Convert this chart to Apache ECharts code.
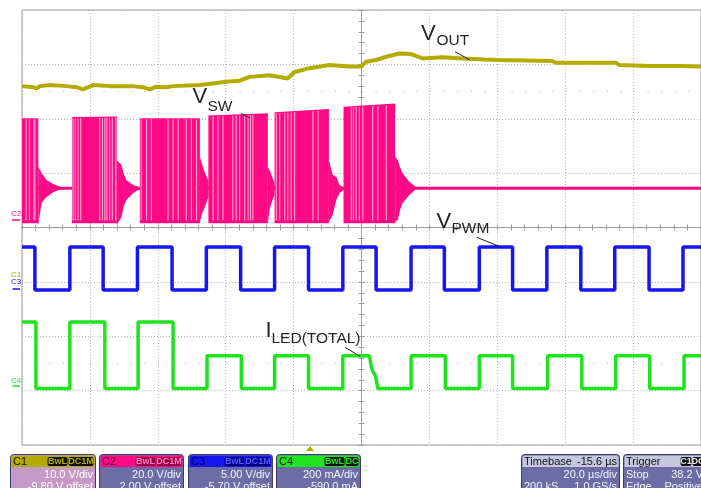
<!DOCTYPE html>
<html><head><meta charset="utf-8">
<script src="https://cdn.jsdelivr.net/npm/echarts@6/dist/echarts.min.js"></script>
<style>html,body{margin:0;padding:0;background:#fff;overflow:hidden}#c{width:701px;height:488px}</style>
</head><body><div id="c"></div>
<script>
// Horizontal: time in µs (20 µs/div, 10 div). Vertical: screen divisions (-4..4, centre = 0).
const timeMin = -100, timeMax = 100, timeStep = 20;
const divMin = -4, divMax = 4;

// C1 VOUT trace [t, div]
const voutPoints = [[-100,2.60],[-96.7,2.58],[-95.7,2.56],[-94.7,2.60],[-91.8,2.62],[-86.9,2.60],[-83.9,2.58],[-82.0,2.54],[-80.5,2.58],[-79.0,2.62],[-73.9,2.60],[-67.4,2.60],[-64.4,2.58],[-62.4,2.54],[-60.4,2.59],[-57.4,2.58],[-55.5,2.60],[-47.6,2.62],[-39.8,2.68],[-35.9,2.70],[-32.9,2.77],[-27.1,2.80],[-21.8,2.74],[-19.7,2.86],[-15.3,2.93],[-9.4,2.99],[-3.5,2.96],[-0.1,2.96],[1.4,3.05],[4.3,3.08],[7.3,3.14],[11.2,3.20],[14.6,3.19],[18.0,3.11],[23.9,3.13],[29.8,3.11],[36.2,3.09],[40.6,3.08],[56.2,3.06],[57.3,3.03],[74.9,3.03],[75.9,2.99],[84.7,2.97],[93.5,2.97],[100,2.96]];

// C2 VSW switching bursts [start, end, top at start, top at end]
const vswBursts = [[-100,-95.2,2.01,2.01],[-85.3,-72.1,2.03,2.04],[-65.3,-47.6,2.01,2.01],[-45.1,-27.6,2.06,2.10],[-25.6,-9.6,2.12,2.18],[-5.3,9.9,2.22,2.28]];
const vswLow = 0.08;
// lighter (aliased) stripes seen inside the bursts, times in µs
const vswStripes = [-98.8,-97.8,-96.5,-96.2,-85.0,-84.3,-83.5,-82.7,-77.1,-76.3,-75.6,-75.0,-74.2,-73.4,-72.4,-64.9,-63.3,-61.9,-57.0,-55.5,-54.0,-51.6,-50.1,-48.6,-43.7,-42.3,-40.8,-37.9,-36.9,-35.9,-34.4,-33.4,-32.7,-32.0,-25.1,-24.1,-22.6,-21.7,-20.7,-19.7,-14.3,-12.8,-3.0,-2.4,-1.6,-0.6,0.4,3.3,4.8,7.3];
// ringing after each burst: [t, upper, lower]
const vswRinging = [
  [[-95.2,1.12,0.03],[-94.6,1.05,0.30],[-94.2,1.00,0.45],[-93.4,0.93,0.52],[-92.7,0.87,0.56],[-90.8,0.80,0.65],[-88.8,0.75,0.70],[-87.1,0.74,0.71]],
  [[-72.1,1.24,0.05],[-70.7,1.15,0.19],[-70.0,0.98,0.40],[-69.2,0.87,0.51],[-67.3,0.78,0.63],[-65.3,0.74,0.71]],
  [[-47.6,1.30,0.10],[-47.1,1.19,0.23],[-46.1,1.00,0.38],[-45.1,0.87,0.56]],
  [[-27.6,1.11,0.05],[-27.1,1.06,0.32],[-26.2,0.91,0.51],[-25.6,0.82,0.60]],
  [[-9.6,1.24,0.10],[-8.5,0.97,0.23],[-7.4,0.93,0.51],[-6.5,0.78,0.63],[-5.3,0.74,0.69]],
  [[9.9,1.30,0.10],[10.7,1.24,0.14],[11.4,1.10,0.33],[12.1,1.00,0.45],[14.1,0.84,0.60],[16.1,0.74,0.71]]
];
const vswIdleLine = [[-100,0.72],[100,0.72]];

// C3 VPWM: edge times (starts high)
const vpwmEdges = [-96.2,-85.9,-76.1,-66.0,-55.8,-45.7,-35.6,-25.6,-15.6,-5.5,4.3,14.6,24.4,34.7,44.5,54.6,64.6,74.6,84.7,94.7];
const vpwmHigh = -0.36, vpwmLow = -1.15;

// C4 ILED(TOTAL) trace [t, div]
const iledPoints = [[-100,-1.74],[-95.9,-1.74],[-95.9,-2.96],[-85.9,-2.96],[-85.9,-1.74],[-75.6,-1.74],[-75.6,-2.96],[-65.8,-2.96],[-65.8,-1.74],[-55.5,-1.74],[-55.5,-2.96],[-45.5,-2.96],[-45.5,-2.36],[-35.4,-2.36],[-35.4,-2.96],[-25.6,-2.96],[-25.6,-2.36],[-15.6,-2.36],[-15.6,-2.96],[-5.5,-2.96],[-5.5,-2.36],[2.35,-2.36],[2.85,-2.55],[3.3,-2.64],[4.1,-2.73],[4.8,-2.96],[14.6,-2.96],[14.6,-2.36],[24.7,-2.36],[24.7,-2.96],[34.7,-2.96],[34.7,-2.36],[44.5,-2.36],[44.5,-2.96],[54.8,-2.96],[54.8,-2.36],[64.9,-2.36],[64.9,-2.96],[74.9,-2.96],[74.9,-2.36],[84.9,-2.36],[84.9,-2.96],[95,-2.96],[95,-2.36],[100,-2.36]];

const PINK = '#ff0a84', PINK_LIGHT = '#ffa3d0', OLIVE = '#b3ab00', BLUE = '#1616f2', GREEN = '#1ee41e';
const GRIDC = '#9c9c9c';

function stepWave(edges, hi, lo) {
  const pts = [[timeMin, hi]];
  let lvl = hi;
  edges.forEach(e => { pts.push([e, lvl]); lvl = (lvl === hi ? lo : hi); pts.push([e, lvl]); });
  pts.push([timeMax, lvl]);
  return pts;
}
function burstAt(t) {
  return vswBursts.find(b => t >= b[0] && t <= b[1]);
}

const chart = echarts.init(document.getElementById('c'), null, {renderer: 'canvas', width: 701, height: 488});

function axisX(gi, inside, split) {
  return {gridIndex: gi, type: 'value', min: timeMin, max: timeMax, interval: timeStep,
    axisLine: {show: true, onZero: true, lineStyle: {color: GRIDC, width: 1}},
    axisTick: {show: true, inside: inside, length: 3, lineStyle: {color: GRIDC}},
    minorTick: {show: true, splitNumber: 5, length: 3, lineStyle: {color: GRIDC}},
    axisLabel: {show: false},
    splitLine: {show: split, lineStyle: {color: '#b4b4b4', type: [1, 2]}}};
}
function axisY(gi, inside, split) {
  return {gridIndex: gi, type: 'value', min: divMin, max: divMax, interval: 1,
    axisLine: {show: true, onZero: true, lineStyle: {color: GRIDC, width: 1}},
    axisTick: {show: true, inside: inside, length: 3, lineStyle: {color: GRIDC}},
    minorTick: {show: true, splitNumber: 5, length: 3, lineStyle: {color: GRIDC}},
    axisLabel: {show: false},
    splitLine: {show: split, lineStyle: {color: '#b4b4b4', type: [1, 2]}}};
}

function txt(text, x, y, size, color, align) {
  return {type: 'text', silent: true, z: 100,
    style: {text: text, x: x, y: y, font: size + 'px "Liberation Sans", Arial, sans-serif', fill: color, align: align || 'left', verticalAlign: 'middle'}};
}
function line(x1, y1, x2, y2, color, w) {
  return {type: 'line', silent: true, z: 100, shape: {x1, y1, x2, y2}, style: {stroke: color, lineWidth: w || 1}};
}

const gfx = [];
// trace annotations
const LBL = '#262626';
gfx.push(txt('V', 421, 34.3, 22, LBL), txt('OUT', 436.5, 41.2, 15.5, LBL), line(455, 51.7, 470, 60, '#222'));
gfx.push(txt('V', 192.5, 97.3, 22, LBL), txt('SW', 207.5, 106.3, 15.5, LBL), line(241, 113.5, 250, 118, '#222'));
gfx.push(txt('V', 436.5, 222.3, 22, LBL), txt('PWM', 451.5, 228.9, 15.5, LBL), line(476.7, 237.3, 500, 246.7, '#222'));
gfx.push(txt('I', 265.5, 331, 22, LBL), txt('LED(TOTAL)', 271.5, 338.6, 15.5, LBL), line(345, 347.3, 360, 356.3, '#222'));
// channel ground markers
gfx.push(txt('C2', 11, 213.5, 8, PINK), line(12, 220, 20, 220, PINK, 1.5));
gfx.push(txt('C1', 11, 274.5, 8, OLIVE), txt('C3', 11, 281.5, 8, BLUE), line(12.5, 289, 20, 289, BLUE, 1.5));
gfx.push(txt('C4', 11, 381, 8, GREEN), line(12.5, 386, 20, 386, GREEN, 1.5));
// trigger position marker
gfx.push({type: 'polygon', silent: true, z: 100, shape: {points: [[306, 451], [314, 451], [310, 446]]}, style: {fill: OLIVE}});

// info panels
const PFONT = '"Liberation Sans", Arial, sans-serif';
function ptxt(text, x, y, color, align) {
  return {type: 'text', silent: true, z: 101, style: {text, x, y, font: '11px ' + PFONT, fill: color, align: align || 'left', verticalAlign: 'middle'}};
}
function panel(x, w, o) {
  gfx.push({type: 'rect', silent: true, z: 100, shape: {x: x + 0.5, y: 454.5, width: w, height: 40, r: 3}, style: {fill: o.body, stroke: '#3c3c6a', lineWidth: 1}});
  gfx.push({type: 'rect', silent: true, z: 100, shape: {x: x + 1.5, y: 455.5, width: w - 2, height: 11.5, r: [2, 2, 0, 0]}, style: {fill: o.head}});
  gfx.push(ptxt(o.title, x + 3, 461.5, o.titleColor));
  let bx = x + w - 1;
  (o.badges || []).slice().reverse().forEach(b => {
    bx -= b[1];
    gfx.push({type: 'rect', silent: true, z: 101, shape: {x: bx + 0.5, y: 457, width: b[1] - 1, height: 9, r: 2}, style: {fill: o.badgeBg}});
    gfx.push({type: 'text', silent: true, z: 102, style: {text: b[0], x: bx + b[1] / 2, y: 461.8, font: 'bold 9px ' + PFONT, fill: o.badgeFg, align: 'center', verticalAlign: 'middle'}});
  });
  if (o.headRight) gfx.push(ptxt(o.headRight, x + w - 2, 461.5, o.titleColor, 'right'));
  o.rows.forEach((r, i) => {
    const y = 474.5 + i * 12.5;
    if (r[0]) gfx.push(ptxt(r[0], x + 3, y, o.fg));
    if (r[1]) gfx.push(ptxt(r[1], x + w - 2, y, o.fg, 'right'));
  });
}
const BODY = '#6d6da5';
panel(10, 85, {head: OLIVE, title: 'C1', titleColor: '#111', badges: [['BwL', 21], ['DC1M', 26]], badgeBg: '#111', badgeFg: OLIVE, body: '#c69ac6', fg: '#ffffff', rows: [['', '10.0 V/div'], ['', '-9.80 V offset']]});
panel(99, 84, {head: PINK, title: 'C2', titleColor: '#5a0030', badges: [['BwL', 21], ['DC1M', 26]], badgeBg: '#9a0048', badgeFg: '#ff7fbf', body: BODY, fg: '#f2f2ff', rows: [['', '20.0 V/div'], ['', '2.00 V offset']]});
panel(188, 84, {head: BLUE, title: 'C3', titleColor: '#00006a', badges: [['BwL', 21], ['DC1M', 26]], badgeBg: '#000090', badgeFg: '#5a5aff', body: BODY, fg: '#f2f2ff', rows: [['', '5.00 V/div'], ['', '-5.70 V offset']]});
panel(276, 84, {head: GREEN, title: 'C4', titleColor: '#111', badges: [['BwL', 21], ['DC', 14]], badgeBg: '#111', badgeFg: GREEN, body: BODY, fg: '#f2f2ff', rows: [['', '200 mA/div'], ['', '-590.0 mA']]});
panel(521, 98, {head: '#c6c6de', title: 'Timebase', titleColor: '#111', headRight: '-15.6 µs', body: BODY, fg: '#f2f2ff', rows: [['', '20.0 µs/div'], ['200 kS', '1.0 GS/s']]});
panel(623, 82, {head: '#c6c6de', title: 'Trigger', titleColor: '#111', badges: [['C1', 12], ['DC', 12]], badgeBg: '#111', badgeFg: '#e8e8e8', body: BODY, fg: '#f2f2ff', rows: [['Stop', '38.2 V'], ['Edge', 'Positive']]});

const option = {
  animation: false,
  backgroundColor: '#ffffff',
  grid: [
    {left: 22, top: 10, width: 680, height: 435, show: true, borderColor: GRIDC, borderWidth: 1, backgroundColor: '#fff'},
    {left: 22, top: 10, width: 680, height: 435, show: false}
  ],
  xAxis: [axisX(0, false, true), axisX(1, true, false)],
  yAxis: [axisY(0, false, true), axisY(1, true, false)],
  series: [
    {type: 'line', name: 'VSW idle', xAxisIndex: 0, yAxisIndex: 0, data: vswIdleLine, showSymbol: false, lineStyle: {color: PINK, width: 3}, z: 2},
    {type: 'custom', name: 'VSW bursts', xAxisIndex: 0, yAxisIndex: 0, clip: true, z: 3,
      data: vswBursts, encode: {x: [0, 1], y: [2, 3]},
      renderItem: (params, api) => {
        const s = api.value(0), e = api.value(1), ts = api.value(2), te = api.value(3);
        return {type: 'polygon', shape: {points: [api.coord([s, vswLow]), api.coord([s, ts]), api.coord([e, te]), api.coord([e, vswLow])]}, style: {fill: PINK}};
      }},
    {type: 'custom', name: 'VSW stripes', xAxisIndex: 0, yAxisIndex: 0, clip: true, z: 3.5,
      data: vswStripes.map(t => [t]), encode: {x: 0},
      renderItem: (params, api) => {
        const t = api.value(0), b = burstAt(t);
        if (!b) return null;
        const top = b[2] + (b[3] - b[2]) * (t - b[0]) / (b[1] - b[0]);
        const p1 = api.coord([t, vswLow + 0.05]), p2 = api.coord([t, top - 0.02]);
        return {type: 'line', shape: {x1: p1[0], y1: p1[1], x2: p2[0], y2: p2[1]}, style: {stroke: PINK_LIGHT, lineWidth: 1.1}};
      }},
    {type: 'custom', name: 'VSW ringing', xAxisIndex: 0, yAxisIndex: 0, clip: true, z: 3,
      data: vswRinging.map((r, i) => [r[0][0], r[r.length - 1][0], i]), encode: {x: [0, 1]},
      renderItem: (params, api) => {
        const r = vswRinging[api.value(2)];
        const pts = r.map(p => api.coord([p[0], p[1]])).concat(r.slice().reverse().map(p => api.coord([p[0], p[2]])));
        return {type: 'polygon', shape: {points: pts}, style: {fill: PINK}};
      }},
    {type: 'line', name: 'VOUT', xAxisIndex: 0, yAxisIndex: 0, data: voutPoints, showSymbol: false, lineStyle: {color: OLIVE, width: 4}, z: 4,
      markLine: {silent: true, symbol: 'none', label: {show: false}, animation: false,
        lineStyle: {color: '#a8a8a8', width: 1, type: [1, 12.6]}, data: [{yAxis: 2.5}, {yAxis: -2.5}]}},
    {type: 'line', name: 'VPWM', xAxisIndex: 0, yAxisIndex: 0, data: stepWave(vpwmEdges, vpwmHigh, vpwmLow), showSymbol: false, lineStyle: {color: BLUE, width: 3.5}, z: 4},
    {type: 'line', name: 'ILED', xAxisIndex: 0, yAxisIndex: 0, data: iledPoints, showSymbol: false, lineStyle: {color: GREEN, width: 3.5}, z: 4}
  ],
  graphic: {elements: gfx}
};
chart.setOption(option);
</script>
</body></html>
